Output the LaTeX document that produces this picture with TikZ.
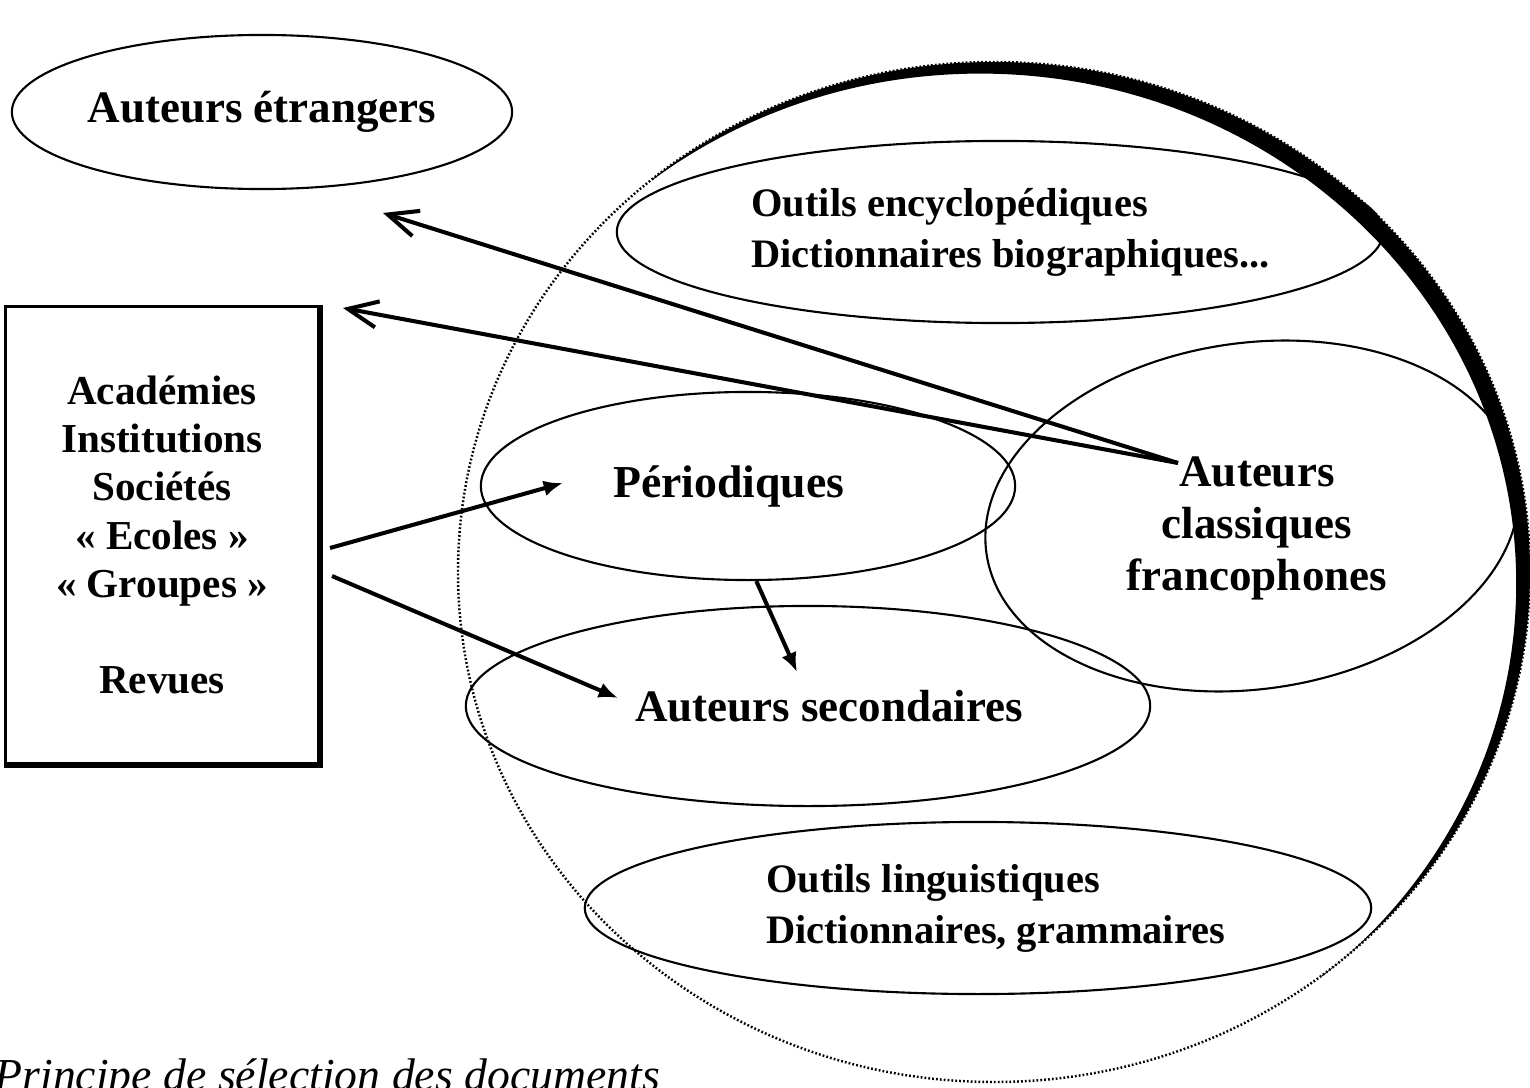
\documentclass[tikz,border=0pt]{standalone}
\usepackage{fontspec}
\setmainfont{Liberation Serif}
\usetikzlibrary{shapes.geometric,arrows.meta}

\tikzset{
  bubble/.style={ellipse, draw, line width=0.6pt, inner sep=0pt, align=center},
  lbl/.style={font=\bfseries\fontsize{12.8}{14.8}\selectfont, align=center},
  outil/.style={font=\bfseries\fontsize{11.5}{14.5}\selectfont, align=left},
  renvoi/.style={line width=1.15pt, -{Straight Barb[length=8.5pt,width=7.5pt]}},
  flux/.style={line width=1.15pt, -{Latex[length=5.5pt,width=4.5pt]}},
}

\begin{document}
\begin{tikzpicture}[x=0.01cm, y=-0.01cm]
\useasboundingbox (0,0) rectangle (1530,1088);

% Corpus
  \draw[line width=0.7pt, dash pattern=on 0.5pt off 0.6pt] (994,572) ellipse [x radius=536, y radius=510];
  \begin{scope}
    \clip (1630,1344) -- (344,-188) -- (1110,-831) -- (2396,701) -- cycle;
    \fill[even odd rule] (994,572) ellipse [x radius=536, y radius=510]
                         (980.2,583.6) ellipse [x radius=536, y radius=510];
  \end{scope}

% Nodes
  \node[bubble, font=\bfseries\fontsize{12.8}{15}\selectfont,
        minimum width=5cm, minimum height=1.54cm]   (etr)    at (262,112)  {Auteurs étrangers}; %
  \node[bubble, outil, minimum width=7.66cm, minimum height=1.82cm] (encyc) at (1000,232)
        {\hspace*{6pt}Outils encyclopédiques\\\hspace*{6pt}Dictionnaires biographiques...}; %
  \node[bubble, font=\bfseries\fontsize{13}{15}\selectfont,
        minimum width=5.34cm, minimum height=1.88cm] (perio) at (748,486) {Périodiques\hspace*{11pt}}; %
  \node[bubble, lbl, minimum width=6.84cm, minimum height=2cm] (second) at (808,706)
        {\raisebox{-8pt}{\hspace*{12pt}Auteurs secondaires}}; %
  \node[bubble, outil, minimum width=7.86cm, minimum height=1.72cm] (ling) at (978,908)
        {\hspace*{10pt}Outils linguistiques\\\hspace*{10pt}Dictionnaires, grammaires}; %
  \node[bubble, minimum width=5.36cm, minimum height=3.46cm, rotate=8] (franco) at (1252,516) {}; %
  \node[lbl]                   (classiq) at (1257,528) {Auteurs\\classiques\\francophones}; %
  \node[draw, line width=0.8pt, minimum width=3.13cm, minimum height=4.57cm, inner sep=0pt,
        font=\bfseries\fontsize{11.7}{13.7}\selectfont, align=center] (acad) at (162,535)
        {Académies\\Institutions\\Sociétés\\« Ecoles »\\« Groupes »\\[13.7pt]Revues}; %
  \draw[line width=1.5pt] (acad.north east) -- (acad.south east) -- (acad.south west);

  \node[anchor=base west, inner sep=0pt, font=\itshape\fontsize{13}{15}\selectfont]
        (legende) at (-6,1090) {Principe de sélection des documents}; %

% Edges
  \coordinate (src)      at (1178,463);
  \coordinate (versetr)  at (383,213);
  \coordinate (versacad) at (343,308);
  \coordinate (dep1)     at (330,548);
  \coordinate (dep2)     at (332,576);
  \coordinate (versper)  at (563,483);
  \coordinate (verssec)  at (618,698);
  \coordinate (verssec2) at (797,672);

  \draw[renvoi] (src) -- (versetr);
  \draw[renvoi] (src) -- (versacad);
  \draw[flux] (dep1) -- (versper);
  \draw[flux] (dep2) -- (verssec);
  \draw[flux] (perio.-85) -- (verssec2);

\end{tikzpicture}
\end{document}
